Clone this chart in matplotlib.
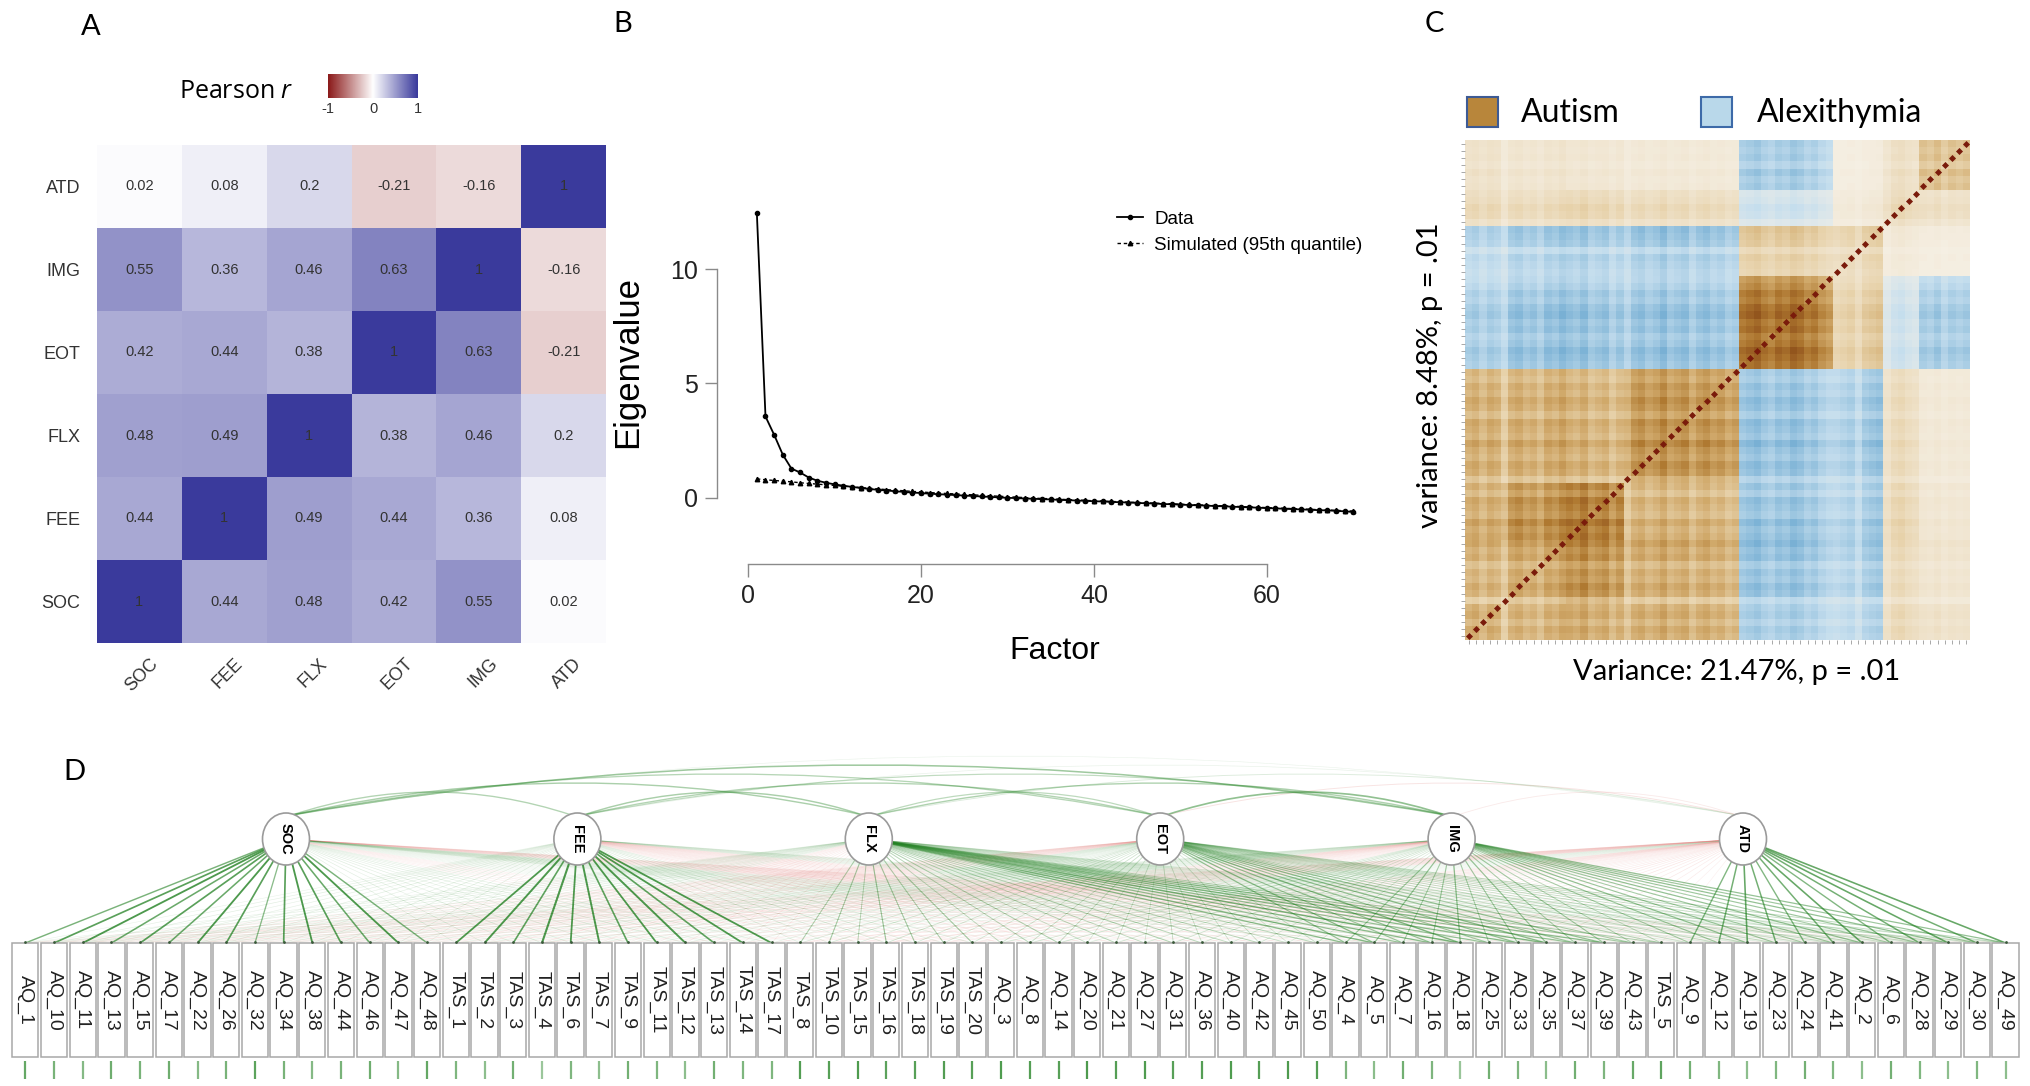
import numpy as np
import matplotlib
matplotlib.use('Agg')
import matplotlib.pyplot as plt
from matplotlib.colors import LinearSegmentedColormap
from matplotlib.patches import Rectangle, Ellipse, PathPatch
from matplotlib.path import Path
from matplotlib.collections import LineCollection

W, H = 2030, 1086
plt.rcParams['font.family'] = ['Liberation Sans', 'DejaVu Sans']
plt.rcParams['mathtext.fontset'] = 'custom'
plt.rcParams['mathtext.it'] = 'Open Sans:italic'
plt.rcParams['mathtext.rm'] = 'Open Sans'

# ---------------- data ----------------
factors = ['SOC', 'FEE', 'FLX', 'EOT', 'IMG', 'ATD']
corr = [[1.00, 0.44, 0.48, 0.42, 0.55, 0.02],
        [0.44, 1.00, 0.49, 0.44, 0.36, 0.08],
        [0.48, 0.49, 1.00, 0.38, 0.46, 0.20],
        [0.42, 0.44, 0.38, 1.00, 0.63, -0.21],
        [0.55, 0.36, 0.46, 0.63, 1.00, -0.16],
        [0.02, 0.08, 0.20, -0.21, -0.16, 1.00]]

eig_data = [12.45, 3.55, 2.75, 1.88, 1.27, 1.10, 0.88, 0.74, 0.65, 0.58,
            0.52, 0.47, 0.42, 0.38, 0.34, 0.31, 0.28, 0.25, 0.22, 0.20,
            0.17, 0.15, 0.13, 0.11, 0.09, 0.07, 0.05, 0.03, 0.01, -0.01,
            -0.02, -0.04, -0.05, -0.07, -0.08, -0.10, -0.11, -0.13, -0.14, -0.16,
            -0.17, -0.19, -0.20, -0.22, -0.23, -0.25, -0.26, -0.28, -0.29, -0.31,
            -0.32, -0.34, -0.35, -0.37, -0.38, -0.40, -0.41, -0.43, -0.44, -0.46,
            -0.47, -0.49, -0.50, -0.52, -0.53, -0.55, -0.56, -0.58, -0.60, -0.63]
eig_sim = [0.82, 0.78, 0.75, 0.72, 0.69, 0.65, 0.62, 0.59, 0.56, 0.53,
           0.50, 0.47, 0.44, 0.41, 0.38, 0.35, 0.32, 0.30, 0.27, 0.25,
           0.22, 0.20, 0.18, 0.16, 0.14, 0.12, 0.10, 0.08, 0.06, 0.04,
           0.02, 0.00, -0.02, -0.04, -0.05, -0.07, -0.09, -0.10, -0.12, -0.14,
           -0.15, -0.17, -0.18, -0.20, -0.21, -0.23, -0.24, -0.26, -0.27, -0.29,
           -0.30, -0.32, -0.33, -0.35, -0.36, -0.38, -0.39, -0.41, -0.42, -0.44,
           -0.45, -0.47, -0.48, -0.50, -0.51, -0.53, -0.54, -0.56, -0.57, -0.59]

# Panel C: item clusters, cluster-by-cluster correlation levels, item strengths
c_sizes = [5, 9, 8, 16, 13, 7, 5, 7]
c_block = [[0.32, 0.28, 0.30, 0.30, -0.22, -0.18, 0.14, 0.08],
           [0.28, 0.30, 0.38, 0.28, -0.25, -0.20, 0.12, 0.06],
           [0.30, 0.38, 0.45, 0.25, -0.24, -0.20, 0.14, 0.05],
           [0.30, 0.28, 0.25, 0.38, -0.25, -0.22, 0.12, 0.04],
           [-0.22, -0.25, -0.24, -0.25, 0.48, 0.15, -0.12, -0.22],
           [-0.18, -0.20, -0.20, -0.22, 0.15, 0.12, 0.04, 0.02],
           [0.14, 0.12, 0.14, 0.12, -0.12, 0.04, 0.15, 0.10],
           [0.08, 0.06, 0.05, 0.04, -0.22, 0.02, 0.10, 0.22]]
c_strength = [0.9, 1.0, 0.8, 1.0, 0.9,
              0.6, 1.0, 1.1, 0.9, 1.0, 0.8, 1.1, 1.0, 1.2,
              1.1, 1.0, 1.2, 0.9, 1.0, 1.1, 0.8, 1.0,
              0.7, 1.0, 1.1, 0.9, 1.0, 1.2, 0.9, 1.0, 1.1, 0.8, 1.0, 1.1, 0.9, 1.0, 0.8, 0.9,
              1.0, 1.1, 1.2, 1.0, 0.9, 1.1, 1.0, 1.2, 1.1, 0.9, 1.0, 0.8, 0.7,
              0.8, 0.9, 1.0, 0.7, 1.1, 1.2, 1.3,
              0.6, 0.9, 1.0, 0.8, 0.7, 1.0, 0.9, 1.1, 0.8, 1.0, 0.9, 1.0]

# Panel D: items, item groups, loadings
items = ['AQ_1', 'AQ_10', 'AQ_11', 'AQ_13', 'AQ_15', 'AQ_17', 'AQ_22', 'AQ_26', 'AQ_32', 'AQ_34',
         'AQ_38', 'AQ_44', 'AQ_46', 'AQ_47', 'AQ_48',
         'TAS_1', 'TAS_2', 'TAS_3', 'TAS_4', 'TAS_6', 'TAS_7', 'TAS_9', 'TAS_11', 'TAS_12', 'TAS_13',
         'TAS_14', 'TAS_17',
         'TAS_8', 'TAS_10', 'TAS_15', 'TAS_16', 'TAS_18', 'TAS_19', 'TAS_20',
         'AQ_3', 'AQ_8', 'AQ_14', 'AQ_20', 'AQ_21', 'AQ_27', 'AQ_31', 'AQ_36', 'AQ_40', 'AQ_42',
         'AQ_45', 'AQ_50',
         'AQ_4', 'AQ_5', 'AQ_7', 'AQ_16', 'AQ_18', 'AQ_25', 'AQ_33', 'AQ_35', 'AQ_37', 'AQ_39',
         'AQ_43', 'TAS_5',
         'AQ_9', 'AQ_12', 'AQ_19', 'AQ_23', 'AQ_24', 'AQ_41', 'AQ_2', 'AQ_6', 'AQ_28', 'AQ_29',
         'AQ_30', 'AQ_49']
d_group_sizes = [15, 12, 7, 12, 12, 12]
d_group_load = [[0.62, 0.10, 0.10, -0.08, 0.08, -0.07],
                [0.10, 0.66, -0.07, 0.10, -0.08, 0.05],
                [-0.06, 0.12, 0.33, 0.16, -0.07, -0.09],
                [0.05, -0.08, 0.26, 0.20, 0.16, -0.07],
                [0.11, -0.06, 0.42, 0.38, 0.34, -0.08],
                [-0.07, 0.07, 0.13, 0.22, 0.36, 0.52]]
d_item_weight = [0.8, 1.0, 1.1, 0.9, 1.0, 0.9, 1.1, 1.0, 0.7, 1.0, 1.1, 1.0, 0.9, 1.1, 0.8,
                 1.0, 1.1, 0.9, 1.2, 1.0, 1.1, 0.9, 1.0, 1.1, 0.9, 1.0, 1.0,
                 0.9, 1.0, 0.8, 1.1, 1.0, 0.9, 1.0,
                 0.9, 1.0, 1.1, 0.8, 1.0, 0.9, 1.1, 1.0, 0.9, 1.0, 0.8, 1.0,
                 1.0, 1.1, 0.9, 1.0, 1.2, 0.9, 1.0, 1.1, 0.9, 1.0, 0.8, 0.7,
                 0.9, 1.0, 1.1, 1.0, 0.9, 1.0, 1.1, 0.9, 1.0, 1.1, 1.0, 1.1]


def rect(l, t, w, h):
    return [l / W, 1 - (t + h) / H, w / W, h / H]


fig = plt.figure(figsize=(W / 100, H / 100), dpi=100)
ov = fig.add_axes([0, 0, 1, 1])
ov.set_xlim(0, W)
ov.set_ylim(H, 0)
ov.axis('off')

lab_font = dict(family=['Lato', 'DejaVu Sans'], fontsize=21, color='black')
ov.text(91, 27, 'A', ha='center', va='center', **lab_font)
ov.text(623, 24, 'B', ha='center', va='center', **lab_font)
ov.text(1434, 24, 'C', ha='center', va='center', **lab_font)
ov.text(74, 772, 'D', ha='center', va='center', **lab_font)

# ---------------- Panel A ----------------
cmap_a = LinearSegmentedColormap.from_list('a', ['#8b1a1a', '#ffffff', '#3a3a9c'])
axA = fig.add_axes(rect(97, 145, 509, 498))
C = np.array(corr)
axA.pcolormesh(C, cmap=cmap_a, vmin=-1, vmax=1)
for i in range(6):
    for j in range(6):
        axA.text(j + 0.5, i + 0.5, f'{C[i, j]:g}', ha='center', va='center',
                 fontsize=10.5, color='#333333')
axA.set_xlim(0, 6)
axA.set_ylim(0, 6)
axA.set_yticks(np.arange(6) + 0.5)
axA.set_yticklabels(factors, fontsize=13, color='#333333')
axA.set_xticks([])
for s in axA.spines.values():
    s.set_visible(False)
axA.tick_params(length=0, pad=12)
for j, f in enumerate(factors):
    ov.text(97 + (j + 0.5) * 509 / 6 + 10, 655, f, rotation=45, ha='right', va='top',
            rotation_mode='anchor', fontsize=13, color='#333333')

ov.text(179, 91, r'Pearson $r$', fontsize=18, ha='left', va='center',
        family=['Open Sans', 'DejaVu Sans'])
axCb = fig.add_axes(rect(328, 74, 90, 24))
axCb.imshow(np.linspace(-1, 1, 200)[None, :], cmap=cmap_a, aspect='auto',
            extent=[-1, 1, 0, 1])
axCb.set_xticks([-1, 0, 1])
axCb.set_xticklabels(['-1', '0', '1'], fontsize=10.5, color='#333333')
axCb.set_yticks([])
axCb.tick_params(length=0, pad=3)
for s in axCb.spines.values():
    s.set_visible(False)

# ---------------- Panel B ----------------
axB = fig.add_axes(rect(733, 200, 644, 324))
xf = np.arange(1, len(eig_data) + 1)
axB.plot(xf, eig_data, '-', color='black', lw=1.3, marker='o', ms=3, label='Data')
axB.plot(xf, eig_sim, linestyle=(0, (2.5, 2)), color='black', lw=1.0, marker='^', ms=3.2,
         label='Simulated (95th quantile)')
axB.set_xlim(-1.76, 72.76)
axB.set_ylim(-1.155, 13.025)
for s in ['top', 'right']:
    axB.spines[s].set_visible(False)
axB.spines['left'].set_position(('outward', 11.5))
axB.spines['left'].set_bounds(0, 10)
axB.spines['bottom'].set_position(('outward', 29))
axB.spines['bottom'].set_bounds(0, 60)
for s in ['left', 'bottom']:
    axB.spines[s].set_color('#8a8a8a')
    axB.spines[s].set_linewidth(1.0)
axB.set_xticks([0, 20, 40, 60])
axB.set_yticks([0, 5, 10])
axB.tick_params(length=9, width=1, color='#8a8a8a', labelsize=18, pad=5, labelcolor='#222222')
axB.set_ylabel('Eigenvalue', fontsize=25, va='center', ha='center')
axB.yaxis.set_label_coords((628 - 733) / 644, 0.5)
axB.set_xlabel('Factor', fontsize=23, va='center', ha='center')
axB.xaxis.set_label_coords(0.5, (524 - 651) / 324)
axB.legend(loc='upper left', bbox_to_anchor=(1100 / W, 1 - 194 / H), bbox_transform=fig.transFigure,
           frameon=False, fontsize=13.5, handlelength=1.4, handletextpad=0.6, labelspacing=0.45)

# ---------------- Panel C ----------------
cmap_c = LinearSegmentedColormap.from_list('c', [
    (0.0, '#2f7fb8'), (0.25 / 1.6, '#7db3d6'), (0.45 / 1.6, '#c5deee'), (0.6 / 1.6, '#f6f1e7'),
    (0.75 / 1.6, '#e8d3ac'), (0.9 / 1.6, '#d1aa6c'), (1.1 / 1.6, '#b07a32'),
    (1.35 / 1.6, '#8a4a18'), (1.0, '#6e1306')])
clusters = np.repeat(np.arange(len(c_sizes)), c_sizes)
sc = np.array(c_strength)
Mc = np.outer(sc, sc) * np.array(c_block)[clusters][:, clusters]
n = len(sc)
axC = fig.add_axes(rect(1465, 140, 505, 500))
axC.imshow(Mc, cmap=cmap_c, vmin=-0.6, vmax=1.0, origin='lower', interpolation='nearest',
           aspect='auto', extent=[-0.5, n - 0.5, -0.5, n - 0.5])
axC.scatter(np.arange(n), np.arange(n), marker='D', s=13, color='#7a1b0b', linewidths=0, zorder=3)
axC.set_xlim(-0.5, n - 0.5)
axC.set_ylim(-0.5, n - 0.5)
axC.set_xticks(np.arange(n))
axC.set_yticks(np.arange(n))
axC.set_xticklabels([])
axC.set_yticklabels([])
axC.tick_params(length=3, width=0.6, color='#9a9a9a')
for s in axC.spines.values():
    s.set_visible(False)
cfont = dict(family=['Lato', 'DejaVu Sans'], color='black')
ov.text(1737, 672, 'Variance: 21.47%, p = .01', ha='center', va='center', fontsize=21, **cfont)
ov.text(1430, 375, 'variance: 8.48%, p = .01', ha='center', va='center', rotation=90,
        fontsize=21, **cfont)
ov.add_patch(Rectangle((1467, 97), 31, 30, facecolor='#b8863b', edgecolor='#3d5a94', lw=1.5))
ov.text(1521, 113, 'Autism', ha='left', va='center', fontsize=23, **cfont)
ov.add_patch(Rectangle((1701, 97), 31, 30, facecolor='#b9d8ea', edgecolor='#3d6aa8', lw=1.5))
ov.text(1757, 113, 'Alexithymia', ha='left', va='center', fontsize=23, **cfont)

# ---------------- Panel D ----------------
ni = len(items)
box_left0, box_right_end = 11, 2020
bw = (box_right_end - box_left0) / ni
bx = box_left0 + bw * (np.arange(ni) + 0.5)
box_top, box_bot = 943, 1057
node_x = np.linspace(286, 1743, len(factors))
node_y = 839
node_r = 24

gid = np.repeat(np.arange(len(d_group_sizes)), d_group_sizes)
L = np.array(d_group_load)[gid] * np.array(d_item_weight)[:, None]

segs, cols, lws = [], [], []
order = []
for f in range(len(factors)):
    for i in range(ni):
        order.append((abs(L[i, f]), f, i))
order.sort()
for mag, f, i in order:
    v = L[i, f]
    dx, dy = bx[i] - node_x[f], box_top - node_y
    d = np.hypot(dx, dy)
    sx, sy = node_x[f] + dx / d * node_r, node_y + dy / d * node_r
    segs.append([(sx, sy), (bx[i], box_top)])
    a = float(np.clip(mag * 1.2, 0.07, 0.8))
    if v >= 0:
        cols.append((0.13, 0.50, 0.13, a))
    else:
        cols.append((0.88, 0.40, 0.38, min(0.35, a * 1.6)))
    lws.append(0.3 + 1.5 * mag)
ov.add_collection(LineCollection(segs, colors=cols, linewidths=lws, zorder=2))

# covariance arcs between factors
Cm = np.array(corr)
arcs = []
for i in range(len(factors)):
    for j in range(i + 1, len(factors)):
        arcs.append((abs(Cm[i, j]), i, j))
arcs.sort()
for mag, i, j in arcs:
    r = Cm[i, j]
    x0, x1 = node_x[i] + 6, node_x[j] - 6
    top = node_y - node_r
    rise = 14 + 9 * (j - i)
    p = Path([(x0, top), ((x0 + x1) / 2, top - 2 * rise), (x1, top)],
             [Path.MOVETO, Path.CURVE3, Path.CURVE3])
    col = (0.20, 0.55, 0.20) if r >= 0 else (0.85, 0.40, 0.38)
    ov.add_patch(PathPatch(p, facecolor='none',
                           edgecolor=col + (float(np.clip(mag * 0.85, 0.1, 0.6)),),
                           lw=0.4 + 1.3 * mag, zorder=2))

for f, name in enumerate(factors):
    ov.add_patch(Ellipse((node_x[f], node_y), 47, 52, facecolor='white', edgecolor='#9a9a9a',
                         lw=1.2, zorder=4))
    ov.text(node_x[f], node_y, name, rotation=-90, ha='center', va='center', fontsize=10.5,
            fontweight='bold', zorder=5)

for i, name in enumerate(items):
    ov.add_patch(Rectangle((bx[i] - bw / 2 + 1.2, box_top), bw - 2.4, box_bot - box_top,
                           facecolor='white', edgecolor='#a8a8a8', lw=1.1, zorder=4))
    ov.text(bx[i], (box_top + box_bot) / 2, name, rotation=-90, ha='center', va='center',
            fontsize=14, color='#222222', zorder=5)
ov.scatter(bx, np.full(ni, box_top - 1), s=4, color='#3a5a3a', zorder=5, linewidths=0)

resid = np.clip(1 - (L ** 2).sum(axis=1), 0.1, 1.0)
rsegs = [[(x, box_bot + 4), (x, box_bot + 22)] for x in bx]
rcols = [(0.12, 0.50, 0.12, float(0.25 + 0.6 * rv)) for rv in resid]
ov.add_collection(LineCollection(rsegs, colors=rcols, linewidths=1.6, zorder=3))

fig.savefig('out.png', dpi=100)
